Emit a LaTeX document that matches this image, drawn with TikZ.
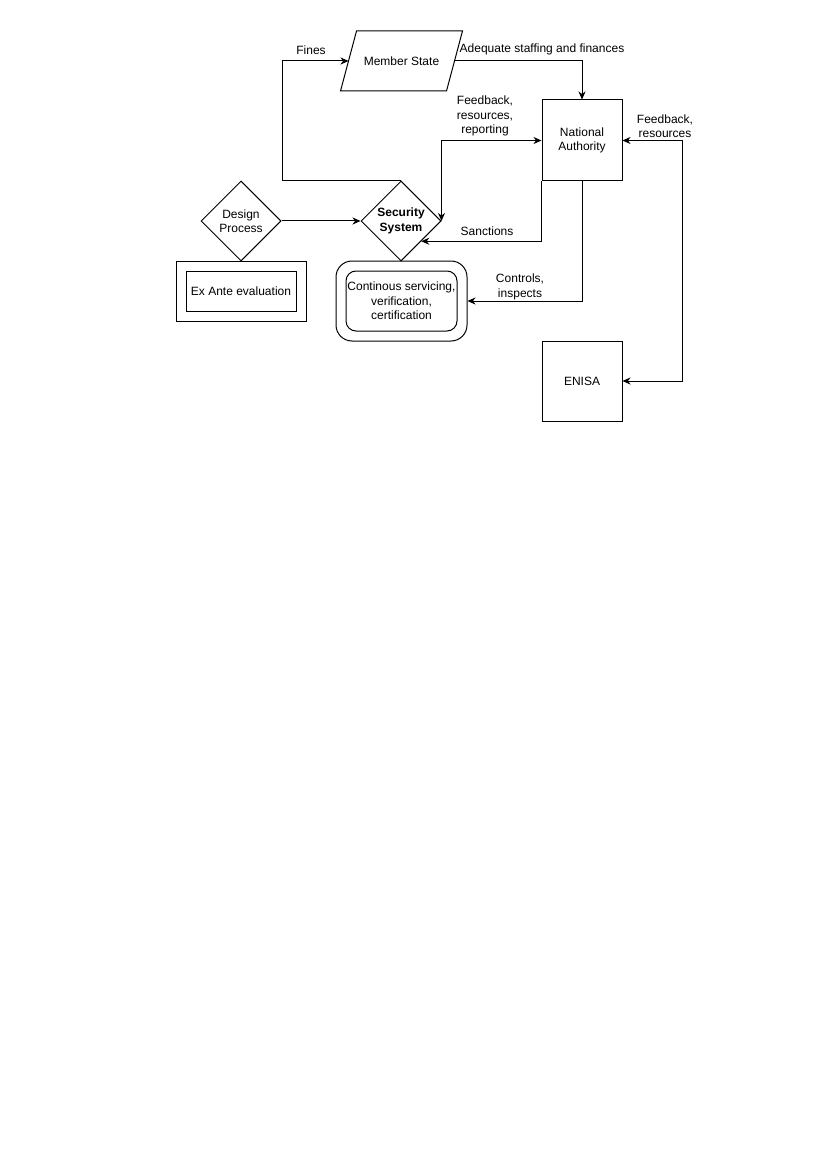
\documentclass[tikz,border=0pt]{standalone}
\usepackage{fontspec}
\setmainfont{Liberation Sans}
\usetikzlibrary{arrows.meta,calc,shapes.geometric}
\begin{document}
\begin{tikzpicture}[x=1pt,y=-1pt,line width=1pt,
  every node/.style={font=\fontsize{12}{14.5}\selectfont,align=center},
  sqbox/.style={draw,minimum width=80pt,minimum height=80pt,inner sep=0pt},
  dia/.style={draw,diamond,aspect=1,minimum width=80pt,minimum height=80pt,inner sep=0pt},
  lbl/.style={inner sep=0pt},
  arr/.style={-{Stealth[length=8pt,width=7pt,inset=2.5pt]}},
  darr/.style={{Stealth[length=8pt,width=7pt,inset=2.5pt]}-{Stealth[length=8pt,width=7pt,inset=2.5pt]}}]
\useasboundingbox (0,0) rectangle (830,1174);
\fill[white] (0,0) rectangle (830,1174);

% Member State (parallelogram)
\node[minimum width=105pt,minimum height=59pt,inner sep=0pt] (ms) at (401.5,61) {Member State};
\draw ($(ms.north west)+(8,0)$) -- ($(ms.north east)+(8,0)$) -- ($(ms.south east)+(-8,0)$) -- ($(ms.south west)+(-8,0)$) -- cycle;

% National Authority
\node[sqbox,minimum height=81pt] (na) at (582,140.5) {National\\Authority};
% ENISA
\node[sqbox] (en) at (582,381) {ENISA};
% Security System
\node[dia,font=\fontsize{12}{14.5}\selectfont\bfseries] (ss) at (401,221) {Security\\System};
% Design Process
\node[dia] (dp) at (241,221) {Design\\Process};
% Ex Ante evaluation
\node[draw,minimum width=130pt,minimum height=60pt,inner sep=0pt] (eao) at (241,291) {};
\node[draw,minimum width=110pt,minimum height=40pt,inner sep=0pt] (ea) at (241,291) {Ex Ante evaluation};
% Continuous servicing
\node[draw,rounded corners=16pt,minimum width=131pt,minimum height=80pt,inner sep=0pt] (cs) at (401.5,301) {};
\node[draw,rounded corners=10pt,minimum width=111pt,minimum height=60pt,inner sep=0pt] (csi) at (401.5,301) {Continous servicing,\\verification,\\certification};

% Connectors
\draw[arr] (ss.north) -- ++(-119,0) |- (ms.west);
\draw[arr] (ms.east) -| (na.north);
\draw[darr] (ss.east) |- (na.west);
\draw[arr] (na.south west) |- (ss.south east);
\draw[arr] (na.south) |- (cs.east);
\draw[arr] (dp.east) -- (ss.west);
\draw[darr] (na.east) -- ++(60,0) |- (en.east);

% Labels
\node[lbl] (lfines) at (311,50) {Fines};
\node[lbl] (lstaff) at (542,49) {Adequate staffing and finances};
\node[lbl] (lfb1) at (485,116) {Feedback,\\resources,\\reporting};
\node[lbl] (lfb2) at (665,126) {Feedback,\\resources};
\node[lbl] (lsan) at (487,231) {Sanctions};
\node[lbl] (lctl) at (520,287) {Controls,\\inspects};
\end{tikzpicture}
\end{document}
